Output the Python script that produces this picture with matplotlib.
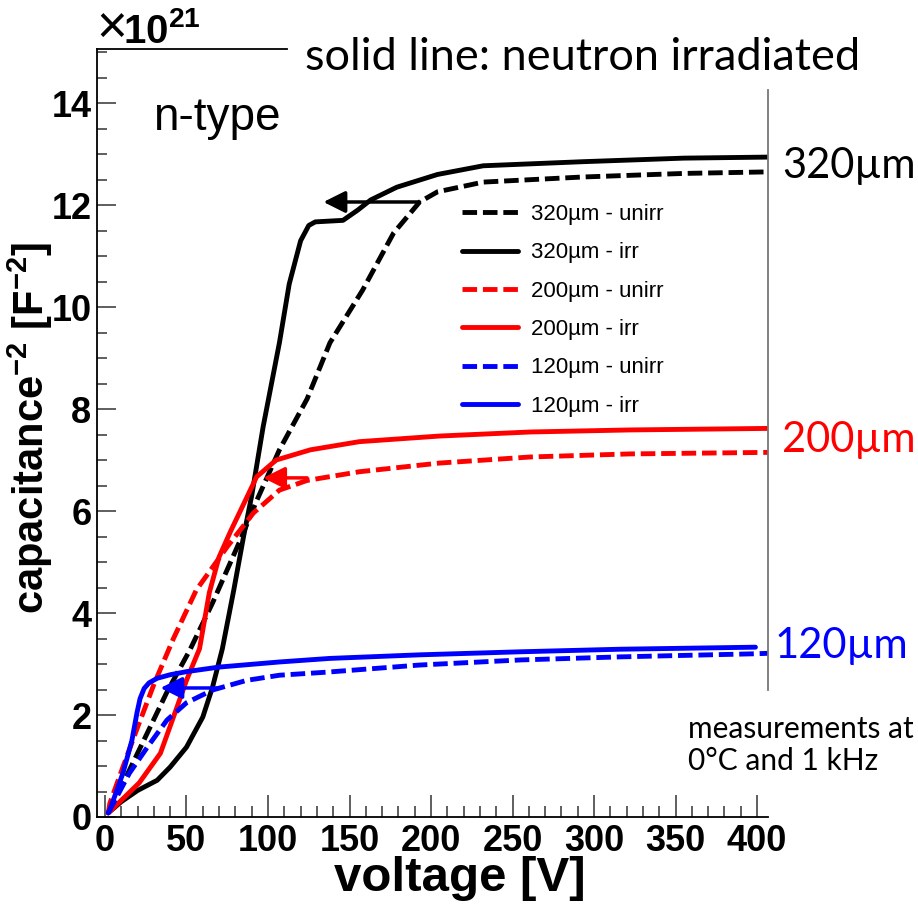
import matplotlib
matplotlib.use('Agg')
import matplotlib.pyplot as plt
from matplotlib.ticker import MultipleLocator, FixedLocator

plt.rcParams['font.family'] = ['Liberation Sans', 'DejaVu Sans']
plt.rcParams['mathtext.fontset'] = 'custom'
plt.rcParams['mathtext.rm'] = 'Liberation Sans:bold'
plt.rcParams['mathtext.bf'] = 'Liberation Sans:bold'
plt.rcParams['mathtext.it'] = 'Liberation Sans:bold'

# ---------------- data (voltage [V], capacitance^-2 [1e21 F^-2]) ----------------
v_320_unirr = [2, 4, 15, 26, 38, 52, 66, 83, 93, 107, 124, 138, 158, 177, 193, 204, 232, 293, 355, 406]
c_320_unirr = [0.08, 0.2, 0.92, 1.65, 2.45, 3.27, 4.2, 5.43, 6.2, 7.2, 8.2, 9.3, 10.33, 11.45, 12.06, 12.26, 12.45, 12.55, 12.62, 12.65]

v_320_irr = [2, 10, 20, 32, 40, 50, 60, 66, 72, 79, 85, 90, 97, 107, 113, 120, 125, 129, 146, 155, 163, 179, 204, 232, 293, 355, 406]
c_320_irr = [0.08, 0.3, 0.52, 0.72, 0.98, 1.37, 1.96, 2.55, 3.3, 4.45, 5.5, 6.3, 7.65, 9.3, 10.45, 11.3, 11.6, 11.67, 11.7, 11.9, 12.1, 12.35, 12.6, 12.77, 12.85, 12.92, 12.94]

v_200_unirr = [2, 3, 11, 20, 30, 42, 56, 75, 91, 107, 124, 156, 205, 261, 322, 407]
c_200_unirr = [0.08, 0.27, 0.98, 1.76, 2.6, 3.5, 4.45, 5.3, 5.96, 6.41, 6.6, 6.77, 6.94, 7.06, 7.12, 7.15]

v_200_irr = [2, 4, 21, 34, 42, 50, 58, 64, 70, 77, 83, 93, 105, 126, 156, 205, 261, 322, 407]
c_200_irr = [0.08, 0.14, 0.67, 1.25, 1.96, 2.68, 3.3, 4.4, 5.1, 5.6, 6.0, 6.67, 7.0, 7.2, 7.36, 7.47, 7.55, 7.59, 7.62]

v_120_unirr = [2, 3, 15, 26, 38, 50, 66, 87, 107, 136, 193, 255, 316, 398, 407]
c_120_unirr = [0.08, 0.14, 0.86, 1.37, 1.9, 2.24, 2.49, 2.68, 2.78, 2.84, 2.98, 3.08, 3.14, 3.2, 3.21]

v_120_irr = [2, 3, 11, 16.5, 19.6, 21.5, 24, 27, 32, 40, 50, 70, 107, 138, 193, 255, 316, 399]
c_120_irr = [0.08, 0.14, 0.86, 1.5, 2.04, 2.32, 2.52, 2.63, 2.72, 2.79, 2.85, 2.94, 3.04, 3.11, 3.18, 3.24, 3.29, 3.33]

legend_labels = ['320\u00b5m - unirr', '320\u00b5m - irr', '200\u00b5m - unirr',
                 '200\u00b5m - irr', '120\u00b5m - unirr', '120\u00b5m - irr']

# arrows: (tail voltage, tip voltage, level)
arrow_tail_v = [193, 124, 69]
arrow_tip_v = [134, 97, 34]
arrow_level = [12.06, 6.65, 2.53]
arrow_colors = ['black', 'red', 'blue']

thickness_labels = ['320\u00b5m', '200\u00b5m', '120\u00b5m']
thickness_colors = ['black', 'red', 'blue']

x_ticks = [0, 50, 100, 150, 200, 250, 300, 350, 400]
y_ticks = [0, 2, 4, 6, 8, 10, 12, 14]

# ---------------- figure ----------------
W, H = 918, 910
fig = plt.figure(figsize=(W / 100, H / 100), dpi=100)
L, R, T, B = 97, 768, 49, 817
ax = fig.add_axes([L / W, 1 - B / H, (R - L) / W, (B - T) / H])

xmin, xmax = -4.9, 406.7
ymin, ymax = 0, 15.06
ax.set_xlim(xmin, xmax)
ax.set_ylim(ymin, ymax)

dash = (0, (3, 1.2))
series = [
    (v_320_unirr, c_320_unirr, 'black', dash),
    (v_320_irr, c_320_irr, 'black', '-'),
    (v_200_unirr, c_200_unirr, 'red', dash),
    (v_200_irr, c_200_irr, 'red', '-'),
    (v_120_unirr, c_120_unirr, 'blue', dash),
    (v_120_irr, c_120_irr, 'blue', '-'),
]
handles = []
for (vx, cy, col, ls), lab in zip(series, legend_labels):
    ln, = ax.plot(vx, cy, color=col, linestyle=ls, lw=3.5, label=lab,
                  solid_joinstyle='round', solid_capstyle='round')
    handles.append(ln)

for tail, tip, lev, col in zip(arrow_tail_v, arrow_tip_v, arrow_level, arrow_colors):
    ax.annotate('', xy=(tip, lev), xytext=(tail, lev),
                arrowprops=dict(arrowstyle='-|>,head_length=0.6,head_width=0.3',
                                color=col, lw=2.5, mutation_scale=22,
                                shrinkA=0, shrinkB=0))

# spines
for s in ['top', 'right']:
    ax.spines[s].set_visible(False)
for s in ['left', 'bottom']:
    ax.spines[s].set_linewidth(1.3)
ax.axhline(ymax, xmin=0, xmax=(287 - L) / (R - L), color='black', lw=1.3, clip_on=False)
ax.axvline(xmax, ymin=(B - 690) / (B - T), ymax=(B - 90) / (B - T), color='#777777', lw=1.3, clip_on=False)

# ticks
ax.xaxis.set_major_locator(FixedLocator(x_ticks))
ax.xaxis.set_minor_locator(MultipleLocator(10))
ax.yaxis.set_major_locator(FixedLocator(y_ticks))
ax.yaxis.set_minor_locator(MultipleLocator(0.5))
ax.set_xticklabels([str(t) for t in x_ticks])
ax.set_yticklabels([str(t) for t in y_ticks])
ax.tick_params(axis='both', which='both', direction='in', top=False, right=False, width=1.1, colors='#333333')
ax.tick_params(axis='x', which='major', length=16, pad=5)
ax.tick_params(axis='x', which='minor', length=8)
ax.tick_params(axis='y', which='major', length=14, pad=4)
ax.tick_params(axis='y', which='minor', length=7)
for lab in ax.get_xticklabels() + ax.get_yticklabels():
    lab.set_fontweight('bold')
    lab.set_fontsize(26)
    lab.set_color('black')

# axis titles
fig.text(460 / W, 1 - 891 / H, 'voltage [V]', fontsize=35.5, fontweight='bold',
         ha='center', va='baseline')
fig.text(30 / W, 1 - 428 / H, r'capacitance$^{-2}$ [F$^{-2}$]', fontsize=30, fontweight='bold',
         ha='center', va='center', rotation=90)
fig.text(96 / W, 1 - 30 / H, '\u00d7', fontsize=38, ha='left', va='center')
fig.text(123 / W, 1 - 43 / H, r'$\mathbf{10^{21}}$', fontsize=29, ha='left', va='baseline')

# annotations
fig.text(305 / W, 1 - 58 / H, 'solid line: neutron irradiated', fontsize=32.5,
         family='Lato', ha='left', va='center')
fig.text(153 / W, 1 - 118 / H, 'n-type', fontsize=33, ha='left', va='center')
label_y = [166, 440, 646]
label_x = [782, 782, 775]
for txt, col, ly, lx in zip(thickness_labels, thickness_colors, label_y, label_x):
    fig.text(lx / W, 1 - ly / H, txt, color=col, fontsize=30, family='Lato',
             ha='left', va='center')
fig.text(688 / W, 1 - 745 / H, 'measurements at\n0\u00b0C and 1 kHz', fontsize=21.5,
         family='Lato', ha='left', va='center', linespacing=1.2)

ax.legend(handles=handles, loc='upper left', bbox_to_anchor=(462 / W, 1 - 204 / H),
          bbox_transform=fig.transFigure, frameon=False, fontsize=16,
          handlelength=2.5, handletextpad=0.6, labelspacing=0.78,
          borderpad=0, borderaxespad=0)

fig.savefig('out.png', dpi=100)
